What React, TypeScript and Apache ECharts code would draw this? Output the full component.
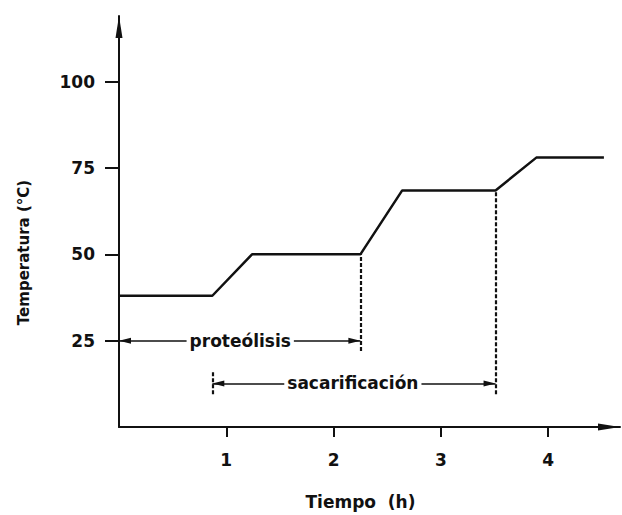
import React, { useEffect, useRef } from "react";
import * as echarts from "echarts";

// Process curve (time in h, temperature in °C)
const timeH = [0, 0.87, 1.24, 2.25, 2.64, 3.51, 3.89, 4.52];
const tempC = [38, 38, 50, 50, 68.5, 68.5, 78, 78];

// Axis ticks
const xTicks = [1, 2, 3, 4];
const yTicks = [25, 50, 75, 100];

// Phases (double arrows)
const phaseNames = ["proteólisis", "sacarificación"];
const phaseStart = [0, 0.87];
const phaseEnd = [2.25, 3.51];
const phaseLevel = [25, 12.6];
const phaseLabelX = [1.13, 2.18];

// Dashed guide lines
const guideX = [0.87, 2.25, 3.51];
const guideFrom = [9.5, 22, 9.5];
const guideTo = [16, 50, 68.5];

const FONT = "DejaVu Sans";
// filled arrow heads whose tip sits at the symbol centre
const AXIS_HEAD = "path://M3.5,0 M3.5,22 L7,44 L0,44 Z";
const HEAD = "path://M3,0 M3,12 L6,24 L0,24 Z";

export default function App() {
  const ref = useRef<HTMLDivElement>(null);

  useEffect(() => {
    if (!ref.current) return;
    const chart = echarts.init(ref.current, undefined, { renderer: "svg" });

    const lineData = timeH.map((t, i) => [t, tempC[i]]);

    const guideLines = guideX.map((x, i) => [
      { coord: [x, guideFrom[i]], symbol: "none" },
      {
        coord: [x, guideTo[i]],
        symbol: "none",
        lineStyle: { type: [4, 2], width: 2.2, color: "#111" },
      },
    ]);
    const arrowLines = phaseNames.map((_, i) => [
      { coord: [phaseStart[i], phaseLevel[i]], symbol: HEAD },
      {
        coord: [phaseEnd[i], phaseLevel[i]],
        symbol: HEAD,
        lineStyle: { type: "solid", width: 1.5, color: "#111" },
      },
    ]);

    const labelData = phaseNames.map((n, i) => ({
      value: [phaseLabelX[i], phaseLevel[i]],
      name: n,
    }));

    chart.setOption({
      animation: false,
      backgroundColor: "#fff",
      grid: { left: 119, right: 2, top: 16, bottom: 85 },
      xAxis: {
        type: "value",
        min: 0,
        max: 4.67,
        name: "Tiempo  (h)",
        nameLocation: "middle",
        nameGap: 66,
        nameTextStyle: {
          fontFamily: FONT,
          fontWeight: "bold",
          fontSize: 17,
          color: "#111",
          padding: [0, 18, 0, 0],
        },
        splitLine: { show: false },
        axisLine: {
          show: true,
          onZero: false,
          symbol: ["none", AXIS_HEAD],
          symbolSize: [7, 44],
          lineStyle: { color: "#111", width: 2 },
        },
        axisTick: {
          show: true,
          customValues: xTicks,
          length: 10,
          lineStyle: { color: "#111", width: 2 },
        },
        axisLabel: {
          customValues: xTicks,
          margin: 24,
          fontFamily: FONT,
          fontWeight: "bold",
          fontSize: 17,
          color: "#111",
        },
      },
      yAxis: {
        type: "value",
        min: 0,
        max: 119,
        name: "Temperatura (°C)",
        nameLocation: "middle",
        nameRotate: 90,
        nameGap: 88,
        nameTextStyle: {
          fontFamily: FONT,
          fontWeight: "bold",
          fontSize: 15,
          color: "#111",
          padding: [0, 62, 0, 0],
        },
        splitLine: { show: false },
        axisLine: {
          show: true,
          onZero: false,
          symbol: ["none", AXIS_HEAD],
          symbolSize: [7, 44],
          lineStyle: { color: "#111", width: 2 },
        },
        axisTick: {
          show: true,
          customValues: yTicks,
          length: 14,
          lineStyle: { color: "#111", width: 2 },
        },
        axisLabel: {
          customValues: yTicks,
          margin: 24,
          fontFamily: FONT,
          fontWeight: "bold",
          fontSize: 17,
          color: "#111",
        },
      },
      series: [
        {
          type: "line",
          data: lineData,
          showSymbol: false,
          symbol: "none",
          lineStyle: { color: "#111", width: 2.5 },
          z: 3,
          markLine: {
            silent: true,
            animation: false,
            symbolSize: [6, 24],
            label: { show: false },
            emphasis: { disabled: true },
            itemStyle: { color: "#111" },
            lineStyle: { color: "#111", width: 2, type: [4, 2] },
            data: [...guideLines, ...arrowLines],
          },
        },
        {
          type: "scatter",
          data: labelData,
          symbolSize: 0,
          silent: true,
          z: 10,
          itemStyle: { opacity: 1, color: "#111" },
          label: {
            show: true,
            position: "inside",
            formatter: (p: any) => p.name,
            fontFamily: FONT,
            fontWeight: "bold",
            fontSize: 17,
            color: "#111",
            opacity: 1,
            textBorderWidth: 0,
            backgroundColor: "#fff",
            padding: [2, 3],
          },
        },
      ],
    });

    return () => chart.dispose();
  }, []);

  return (
    <div
      ref={ref}
      style={{ position: "fixed", left: 0, top: 0, width: 622, height: 515 }}
    />
  );
}
